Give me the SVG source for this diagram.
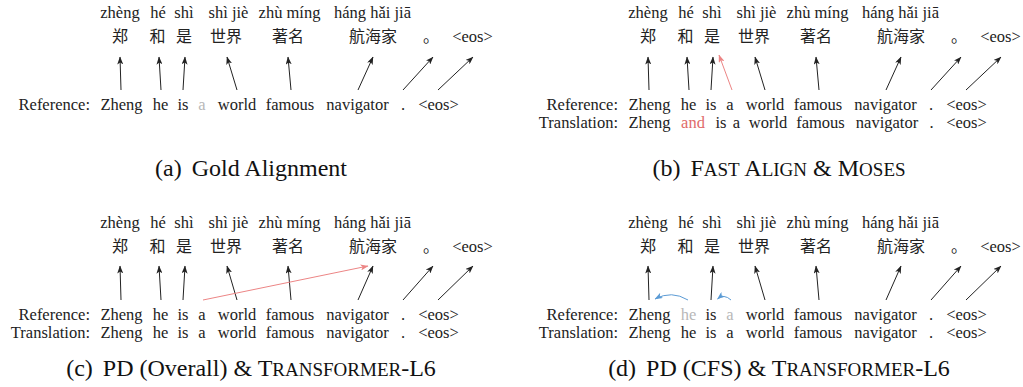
<svg xmlns="http://www.w3.org/2000/svg" width="1023" height="387" viewBox="0 0 1023 387" font-family="'Liberation Serif', 'Times New Roman', serif">
<defs>
<style>
.t{font-family:'Liberation Serif', 'Times New Roman', serif;font-size:16.5px;fill:#222}
.zh{font-family:'Noto Sans CJK SC', 'Noto Sans CJK JP', sans-serif;font-size:16px;fill:#222}
.c{text-anchor:middle}
.e{text-anchor:end}
.g{fill:#b8b8b8}
.r{fill:#e06a6a}
.cap{font-family:'Liberation Serif', 'Times New Roman', serif;font-size:24px;fill:#111;text-anchor:middle}
.sc{font-size:19px}
.ar{stroke:#222;stroke-width:1;fill:none;marker-end:url(#ah)}
.arr{stroke:#ec8585;stroke-width:1;fill:none;marker-end:url(#ahr)}
.arb{stroke:#5b9bd5;stroke-width:1;fill:none;marker-end:url(#ahb)}
</style>
<marker id="ah" viewBox="0 0 8 6" refX="7.5" refY="3" markerWidth="8" markerHeight="6" markerUnits="userSpaceOnUse" orient="auto"><path d="M0,0 L8,3 L0,6 L2,3 z" fill="#222"/></marker>
<marker id="ahr" viewBox="0 0 8 6" refX="7.5" refY="3" markerWidth="8" markerHeight="6" markerUnits="userSpaceOnUse" orient="auto"><path d="M0,0 L8,3 L0,6 L2,3 z" fill="#ec8585"/></marker>
<marker id="ahb" viewBox="0 0 8 6" refX="7.5" refY="3" markerWidth="8" markerHeight="6" markerUnits="userSpaceOnUse" orient="auto"><path d="M0,0 L8,3 L0,6 L2,3 z" fill="#5b9bd5"/></marker>
</defs>
<rect width="1023" height="387" fill="#fff"/>

<!-- Panel (a) -->
<g id="panel-a">
<g id="a-s1"><text class="t c" x="120" y="18">zhèng</text><text class="zh c" x="120" y="42">郑</text></g>
<g id="a-s2"><text class="t c" x="158" y="18">hé</text><text class="zh c" x="157.5" y="42">和</text></g>
<g id="a-s3"><text class="t c" x="184" y="18">shì</text><text class="zh c" x="184" y="42">是</text></g>
<g id="a-s4"><text class="t c" x="228.5" y="18">shì jiè</text><text class="zh c" x="226" y="42">世界</text></g>
<g id="a-s5"><text class="t c" x="289.5" y="18">zhù míng</text><text class="zh c" x="288" y="42">著名</text></g>
<g id="a-s6"><text class="t c" x="372.5" y="18">háng hǎi jiā</text><text class="zh c" x="373" y="42">航海家</text></g>
<g id="a-s7"><text class="zh" x="423" y="42">。</text></g>
<g id="a-s8"><text class="t c" x="472.5" y="42">&lt;eos&gt;</text></g>
<g id="a-ref">
<text class="t e" x="90" y="110">Reference:</text>
<text class="t c" x="121.5" y="110">Zheng</text>
<text class="t c" x="160.5" y="110">he</text>
<text class="t c" x="183" y="110">is</text>
<text class="t c g" x="202" y="110">a</text>
<text class="t c" x="237" y="110">world</text>
<text class="t c" x="290" y="110">famous</text>
<text class="t c" x="357.5" y="110">navigator</text>
<text class="t c" x="403" y="110">.</text>
<text class="t c" x="438.5" y="110">&lt;eos&gt;</text>
</g>
<text class="cap" x="251" y="176">(a)<tspan dx="4"> Gold Alignment</tspan></text>
</g>

<!-- Panel (b) -->
<g id="panel-b" transform="translate(528,0)">
<g id="b-s1"><text class="t c" x="120" y="18">zhèng</text><text class="zh c" x="120" y="42">郑</text></g>
<g id="b-s2"><text class="t c" x="158" y="18">hé</text><text class="zh c" x="157.5" y="42">和</text></g>
<g id="b-s3"><text class="t c" x="184" y="18">shì</text><text class="zh c" x="184" y="42">是</text></g>
<g id="b-s4"><text class="t c" x="228.5" y="18">shì jiè</text><text class="zh c" x="226" y="42">世界</text></g>
<g id="b-s5"><text class="t c" x="289.5" y="18">zhù míng</text><text class="zh c" x="288" y="42">著名</text></g>
<g id="b-s6"><text class="t c" x="372.5" y="18">háng hǎi jiā</text><text class="zh c" x="373" y="42">航海家</text></g>
<g id="b-s7"><text class="zh" x="423" y="42">。</text></g>
<g id="b-s8"><text class="t c" x="472.5" y="42">&lt;eos&gt;</text></g>
<g id="b-ref">
<text class="t e" x="90" y="110">Reference:</text>
<text class="t c" x="121.5" y="110">Zheng</text>
<text class="t c" x="160.5" y="110">he</text>
<text class="t c" x="183" y="110">is</text>
<text class="t c" x="202" y="110">a</text>
<text class="t c" x="237" y="110">world</text>
<text class="t c" x="290" y="110">famous</text>
<text class="t c" x="357.5" y="110">navigator</text>
<text class="t c" x="403" y="110">.</text>
<text class="t c" x="438.5" y="110">&lt;eos&gt;</text>
</g>
<g id="b-trans">
<text class="t e" x="90" y="128">Translation:</text>
<text class="t c" x="121.5" y="128">Zheng</text>
<text class="t c r" x="165" y="128">and</text>
<text class="t c" x="193" y="128">is</text>
<text class="t c" x="208.5" y="128">a</text>
<text class="t c" x="240" y="128">world</text>
<text class="t c" x="292.5" y="128">famous</text>
<text class="t c" x="359" y="128">navigator</text>
<text class="t c" x="403.5" y="128">.</text>
<text class="t c" x="438.5" y="128">&lt;eos&gt;</text>
</g>
<text class="cap" x="251" y="176">(b)<tspan dx="4"> F</tspan><tspan class="sc">AST</tspan> A<tspan class="sc">LIGN</tspan> &amp; M<tspan class="sc">OSES</tspan></text>
</g>

<!-- Panel (c) -->
<g id="panel-c" transform="translate(0,210)">
<g id="c-s1"><text class="t c" x="120" y="18">zhèng</text><text class="zh c" x="120" y="42">郑</text></g>
<g id="c-s2"><text class="t c" x="158" y="18">hé</text><text class="zh c" x="157.5" y="42">和</text></g>
<g id="c-s3"><text class="t c" x="184" y="18">shì</text><text class="zh c" x="184" y="42">是</text></g>
<g id="c-s4"><text class="t c" x="228.5" y="18">shì jiè</text><text class="zh c" x="226" y="42">世界</text></g>
<g id="c-s5"><text class="t c" x="289.5" y="18">zhù míng</text><text class="zh c" x="288" y="42">著名</text></g>
<g id="c-s6"><text class="t c" x="372.5" y="18">háng hǎi jiā</text><text class="zh c" x="373" y="42">航海家</text></g>
<g id="c-s7"><text class="zh" x="423" y="42">。</text></g>
<g id="c-s8"><text class="t c" x="472.5" y="42">&lt;eos&gt;</text></g>
<g id="c-ref">
<text class="t e" x="90" y="110">Reference:</text>
<text class="t c" x="121.5" y="110">Zheng</text>
<text class="t c" x="160.5" y="110">he</text>
<text class="t c" x="183" y="110">is</text>
<text class="t c" x="202" y="110">a</text>
<text class="t c" x="237" y="110">world</text>
<text class="t c" x="290" y="110">famous</text>
<text class="t c" x="357.5" y="110">navigator</text>
<text class="t c" x="403" y="110">.</text>
<text class="t c" x="438.5" y="110">&lt;eos&gt;</text>
</g>
<g id="c-trans">
<text class="t e" x="90" y="128">Translation:</text>
<text class="t c" x="121.5" y="128">Zheng</text>
<text class="t c" x="160.5" y="128">he</text>
<text class="t c" x="183" y="128">is</text>
<text class="t c" x="202" y="128">a</text>
<text class="t c" x="237" y="128">world</text>
<text class="t c" x="290" y="128">famous</text>
<text class="t c" x="357.5" y="128">navigator</text>
<text class="t c" x="403" y="128">.</text>
<text class="t c" x="438.5" y="128">&lt;eos&gt;</text>
</g>
<text class="cap" x="251" y="166">(c)<tspan dx="4"> PD (Overall) &amp; T</tspan><tspan class="sc">RANSFORMER</tspan>-L6</text>
</g>

<!-- Panel (d) -->
<g id="panel-d" transform="translate(528,210)">
<g id="d-s1"><text class="t c" x="120" y="18">zhèng</text><text class="zh c" x="120" y="42">郑</text></g>
<g id="d-s2"><text class="t c" x="158" y="18">hé</text><text class="zh c" x="157.5" y="42">和</text></g>
<g id="d-s3"><text class="t c" x="184" y="18">shì</text><text class="zh c" x="184" y="42">是</text></g>
<g id="d-s4"><text class="t c" x="228.5" y="18">shì jiè</text><text class="zh c" x="226" y="42">世界</text></g>
<g id="d-s5"><text class="t c" x="289.5" y="18">zhù míng</text><text class="zh c" x="288" y="42">著名</text></g>
<g id="d-s6"><text class="t c" x="372.5" y="18">háng hǎi jiā</text><text class="zh c" x="373" y="42">航海家</text></g>
<g id="d-s7"><text class="zh" x="423" y="42">。</text></g>
<g id="d-s8"><text class="t c" x="472.5" y="42">&lt;eos&gt;</text></g>
<g id="d-ref">
<text class="t e" x="90" y="110">Reference:</text>
<text class="t c" x="121.5" y="110">Zheng</text>
<text class="t c g" x="160.5" y="110">he</text>
<text class="t c" x="183" y="110">is</text>
<text class="t c g" x="202" y="110">a</text>
<text class="t c" x="237" y="110">world</text>
<text class="t c" x="290" y="110">famous</text>
<text class="t c" x="357.5" y="110">navigator</text>
<text class="t c" x="403" y="110">.</text>
<text class="t c" x="438.5" y="110">&lt;eos&gt;</text>
</g>
<g id="d-trans">
<text class="t e" x="90" y="128">Translation:</text>
<text class="t c" x="121.5" y="128">Zheng</text>
<text class="t c" x="160.5" y="128">he</text>
<text class="t c" x="183" y="128">is</text>
<text class="t c" x="202" y="128">a</text>
<text class="t c" x="237" y="128">world</text>
<text class="t c" x="290" y="128">famous</text>
<text class="t c" x="357.5" y="128">navigator</text>
<text class="t c" x="403" y="128">.</text>
<text class="t c" x="438.5" y="128">&lt;eos&gt;</text>
</g>
<text class="cap" x="251" y="166">(d)<tspan dx="4"> PD (CFS) &amp; T</tspan><tspan class="sc">RANSFORMER</tspan>-L6</text>
</g>

<!-- Connectors -->
<g id="connectors">
<g id="conn-a">
<path class="ar" d="M121,90 L120,57"/>
<path class="ar" d="M161,90 L159,57"/>
<path class="ar" d="M183,90 L185,57"/>
<path class="ar" d="M237,90 L227,57"/>
<path class="ar" d="M291,90 L288,57"/>
<path class="ar" d="M358,90 L373,57"/>
<path class="ar" d="M403,90 L433,57"/>
<path class="ar" d="M438,90 L473,57"/>
</g>
<g id="conn-b" transform="translate(528,0)">
<path class="ar" d="M121,90 L120,57"/>
<path class="ar" d="M161,90 L159,57"/>
<path class="ar" d="M183,90 L185,57"/>
<path class="arr" d="M204,90 L191,55"/>
<path class="ar" d="M237,90 L227,57"/>
<path class="ar" d="M291,90 L288,57"/>
<path class="ar" d="M358,90 L373,57"/>
<path class="ar" d="M403,90 L433,57"/>
<path class="ar" d="M438,90 L473,57"/>
</g>
<g id="conn-c" transform="translate(0,210)">
<path class="ar" d="M121,90 L120,56"/>
<path class="ar" d="M161,90 L159,56"/>
<path class="ar" d="M183,90 L185,56"/>
<path class="ar" d="M237,90 L227,56"/>
<path class="ar" d="M291,90 L288,56"/>
<path class="arr" d="M203,90 L368,56"/>
<path class="ar" d="M358,90 L373,56"/>
<path class="ar" d="M403,90 L433,56"/>
<path class="ar" d="M438,90 L473,56"/>
</g>
<g id="conn-d" transform="translate(528,210)">
<path class="ar" d="M121,90 L120,56"/>
<path class="ar" d="M183,90 L185,56"/>
<path class="ar" d="M237,90 L227,56"/>
<path class="ar" d="M291,90 L288,56"/>
<path class="ar" d="M358,90 L373,56"/>
<path class="ar" d="M403,90 L433,56"/>
<path class="ar" d="M438,90 L473,56"/>
<path class="arb" d="M160,90 Q143.5,80 127,89"/>
<path class="arb" d="M203,90 Q196,83.5 189.5,89"/>
</g>
</g>
</svg>
